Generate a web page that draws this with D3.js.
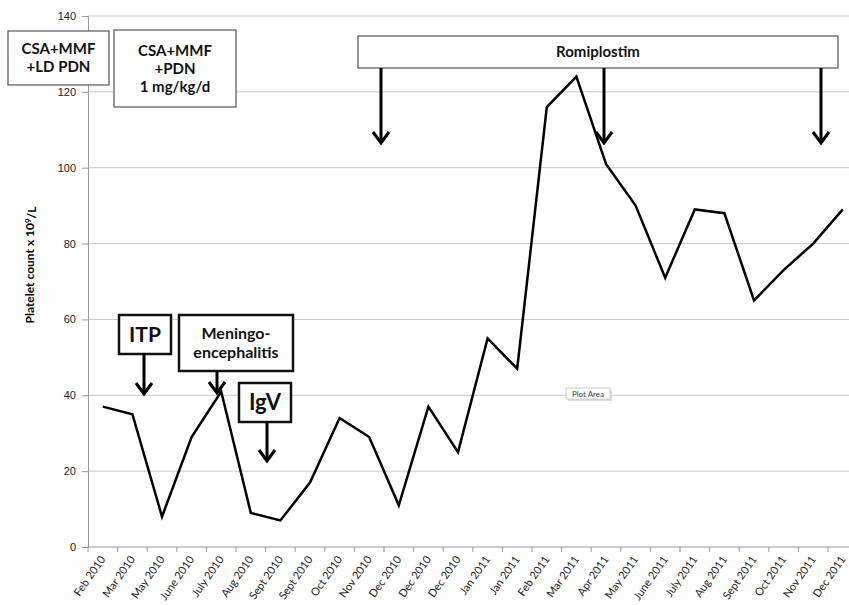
<!DOCTYPE html>
<html>
<head>
<meta charset="utf-8">
<script src="https://cdn.jsdelivr.net/npm/d3@7"></script>
<style>
  body { margin: 0; background: #fff; }
  svg { font-family: Lato, "Open Sans", sans-serif; }
</style>
</head>
<body>
<svg id="chart" width="849" height="605"></svg>
<script>
// months as printed on the x axis (some repeat)
var months = ["Feb 2010", "Mar 2010", "May 2010", "June 2010", "July 2010", "Aug 2010",
  "Sept 2010", "Sept 2010", "Oct 2010", "Nov 2010", "Dec 2010", "Dec 2010", "Dec 2010",
  "Jan 2011", "Jan 2011", "Feb 2011", "Mar 2011", "Apr 2011", "May 2011", "June 2011",
  "July 2011", "Aug 2011", "Sept 2011", "Oct 2011", "Nov 2011", "Dec 2011"];

var platelets = [37, 35, 8, 29, 41, 9, 7, 17, 34, 29, 11, 37, 25, 55, 47, 116, 124,
  101, 90, 71, 89, 88, 65, 73, 80, 89];

var yTicks = [0, 20, 40, 60, 80, 100, 120, 140];

drawChart();

function drawChart() {

  var svg = d3.select("#chart");

  var left = 88, top = 16, bottom = 547, step = 29.6;

  var x = d3.scaleBand()
      .domain(d3.range(months.length))
      .range([left, left + step * months.length]);

  var y = d3.scaleLinear().domain([0, 140]).range([bottom, top]);

  // gridlines
  svg.append("g")
    .selectAll("line")
    .data(yTicks.filter(function (d) { return d > 0; }))
    .enter()
    .append("line")
    .attr("x1", left).attr("x2", 849)
    .attr("y1", function (d) { return y(d); })
    .attr("y2", function (d) { return y(d); })
    .style("stroke", "#c8c8c8");

  // y axis
  var yAxis = svg.append("g")
    .attr("transform", "translate(" + left + ",0)")
    .call(d3.axisLeft(y).tickValues(yTicks).tickSize(6).tickPadding(6));
  yAxis.select(".domain").style("stroke", "#999");
  yAxis.selectAll(".tick line").style("stroke", "#999");
  yAxis.selectAll("text").style("font-size", "11px").style("fill", "#222");

  // x axis line + ticks at category edges
  svg.append("line")
    .attr("x1", left).attr("x2", 849)
    .attr("y1", bottom).attr("y2", bottom)
    .style("stroke", "#999");

  svg.append("g")
    .selectAll("line")
    .data(d3.range(months.length + 1))
    .enter()
    .append("line")
    .attr("x1", function (d) { return left + d * x.step(); })
    .attr("x2", function (d) { return left + d * x.step(); })
    .attr("y1", bottom).attr("y2", bottom + 5)
    .style("stroke", "#999");

  svg.append("g")
    .selectAll("text")
    .data(months)
    .enter()
    .append("text")
    .attr("transform", function (d, i) {
      return "translate(" + (x(i) + x.bandwidth() / 2) + "," + (bottom + 10) + ") rotate(-55)";
    })
    .attr("text-anchor", "end")
    .attr("dy", "0.35em")
    .style("font-size", "11px")
    .style("fill", "#222")
    .text(function (d) { return d; });

  // y title
  var title = svg.append("text")
    .attr("transform", "translate(34,265) rotate(-90)")
    .attr("text-anchor", "middle")
    .style("font-size", "12px")
    .style("font-weight", "bold");
  title.append("tspan").text("Platelet count x 10");
  title.append("tspan").attr("dy", "-0.4em").style("font-size", "8px").text("9");
  title.append("tspan").attr("dy", "0.4em").text("/L");

  // the series
  var line = d3.line()
    .x(function (d, i) { return x(i) + x.bandwidth() / 2; })
    .y(function (d) { return y(d); });

  svg.append("path")
    .datum(platelets)
    .attr("d", line)
    .style("fill", "none")
    .style("stroke", "#000")
    .style("stroke-width", 2.5)
    .style("stroke-linejoin", "miter");

  // "Plot Area" hover label
  svg.append("rect")
    .attr("x", 568).attr("y", 390).attr("width", 44).attr("height", 11)
    .style("fill", "#ddd");
  svg.append("rect")
    .attr("x", 566).attr("y", 388).attr("width", 44).attr("height", 11)
    .style("fill", "#fff").style("stroke", "#ccc");
  svg.append("text")
    .attr("x", 588).attr("y", 397)
    .attr("text-anchor", "middle")
    .style("font-size", "8px").style("fill", "#444")
    .text("Plot Area");

  // annotation boxes
  var boxes = [
    {x: 8, y: 31, w: 101, h: 54, size: 15, lines: ["CSA+MMF", "+LD PDN"]},
    {x: 114, y: 30, w: 122, h: 77, size: 15, lines: ["CSA+MMF", "+PDN", "1 mg/kg/d"]},
    {x: 358, y: 36, w: 480, h: 32, size: 15, lines: ["Romiplostim"]},
    {x: 119, y: 315, w: 52, h: 39, size: 21, lines: ["ITP"]},
    {x: 179, y: 315, w: 114, h: 56, size: 16, lines: ["Meningo-", "encephalitis"]},
    {x: 239, y: 383, w: 52, h: 39, size: 22, lines: ["IgV"]}
  ];

  boxes.forEach(function (b) {
    var g = svg.append("g");
    g.append("rect")
      .attr("x", b.x).attr("y", b.y).attr("width", b.w).attr("height", b.h)
      .style("fill", "#fff")
      .style("stroke", b.size > 15 ? "#111" : "#555")
      .style("stroke-width", b.size > 15 ? 2.5 : 1.2);
    var lh = b.size * 1.2;
    var y0 = b.y + b.h / 2 - lh * (b.lines.length - 1) / 2;
    b.lines.forEach(function (t, i) {
      g.append("text")
        .attr("x", b.x + b.w / 2)
        .attr("y", y0 + i * lh)
        .attr("dy", "0.35em")
        .attr("text-anchor", "middle")
        .style("font-size", b.size + "px")
        .style("font-weight", "bold")
        .style("fill", "#111")
        .text(t);
    });
  });

  // arrows
  var arrows = [
    {x: 381, y1: 68, y2: 143},
    {x: 604, y1: 68, y2: 143},
    {x: 821, y1: 68, y2: 143},
    {x: 144, y1: 354, y2: 394},
    {x: 217, y1: 371, y2: 393},
    {x: 267, y1: 422, y2: 461}
  ];

  arrows.forEach(function (a) {
    svg.append("line")
      .attr("x1", a.x).attr("x2", a.x)
      .attr("y1", a.y1).attr("y2", a.y2 - 1)
      .style("stroke", "#000").style("stroke-width", 3);
    svg.append("path")
      .attr("d", "M" + (a.x - 8) + "," + (a.y2 - 11) + "L" + a.x + "," + a.y2 + "L" + (a.x + 8) + "," + (a.y2 - 11))
      .style("fill", "none").style("stroke", "#000").style("stroke-width", 3);
  });

}
</script>
</body>
</html>
